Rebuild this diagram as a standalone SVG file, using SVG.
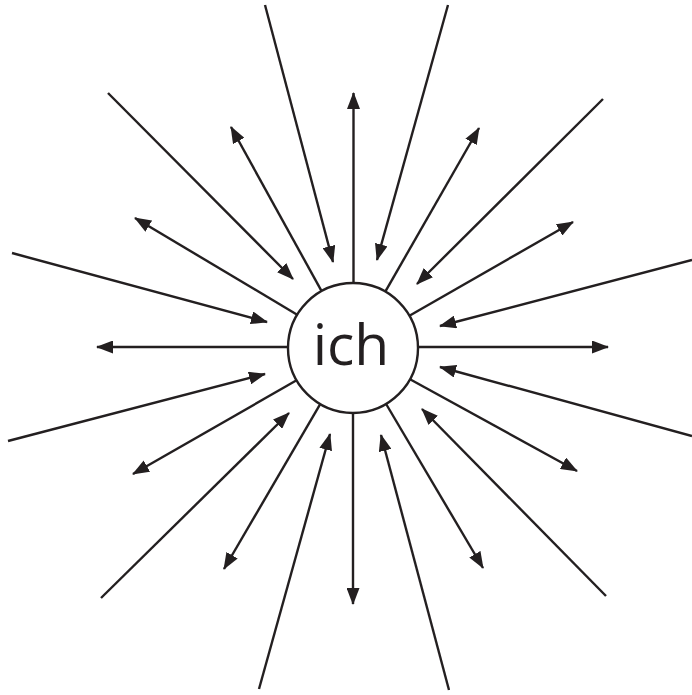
<svg xmlns="http://www.w3.org/2000/svg" width="692" height="695" viewBox="0 0 692 695">
<defs>
<marker id="ah" markerUnits="userSpaceOnUse" markerWidth="17" markerHeight="13" refX="16" refY="6.5" orient="auto" viewBox="0 0 17 13">
<path d="M0,0 L17,6.5 L0,13 z" fill="#231f20"/>
</marker>
</defs>
<style>
.c line{stroke:#231f20;stroke-width:2.4;fill:none;marker-end:url(#ah)}
.n circle{fill:#fff;stroke:#231f20;stroke-width:2.4}
.n text{font-family:"Open Sans","Noto Sans",sans-serif;font-size:57px;fill:#231f20;text-anchor:middle}
</style>
<rect width="692" height="695" fill="#fff"/>
<g class="c" id="connectors">
<line x1="418" y1="347" x2="608" y2="347"/>
<line x1="409.4" y1="315.7" x2="573" y2="222"/>
<line x1="385.3" y1="291.6" x2="479" y2="128"/>
<line x1="353.5" y1="283" x2="353.5" y2="93"/>
<line x1="321.6" y1="291.1" x2="231" y2="127"/>
<line x1="297.2" y1="314.7" x2="135" y2="218"/>
<line x1="288" y1="347" x2="97" y2="347"/>
<line x1="296.6" y1="380.3" x2="133" y2="474"/>
<line x1="320.2" y1="404.2" x2="224" y2="569"/>
<line x1="353" y1="413" x2="353" y2="604"/>
<line x1="386.1" y1="404" x2="483" y2="568"/>
<line x1="410" y1="379.3" x2="577" y2="471"/>
<line x1="692" y1="260" x2="440" y2="326"/>
<line x1="603" y1="99" x2="417" y2="284"/>
<line x1="448" y1="5" x2="377" y2="260"/>
<line x1="265" y1="5" x2="333" y2="262"/>
<line x1="108" y1="93" x2="293" y2="279"/>
<line x1="12" y1="253" x2="267" y2="322"/>
<line x1="8" y1="441" x2="265" y2="374"/>
<line x1="101" y1="598" x2="289" y2="413"/>
<line x1="259" y1="689" x2="330" y2="434"/>
<line x1="449" y1="690" x2="381" y2="435"/>
<line x1="606" y1="596" x2="422" y2="409"/>
<line x1="692" y1="436" x2="440" y2="367"/>
</g>
<g class="n" id="node-ich">
<circle cx="353" cy="348" r="65"/>
<text x="351" y="365">ich</text>
</g>
</svg>
